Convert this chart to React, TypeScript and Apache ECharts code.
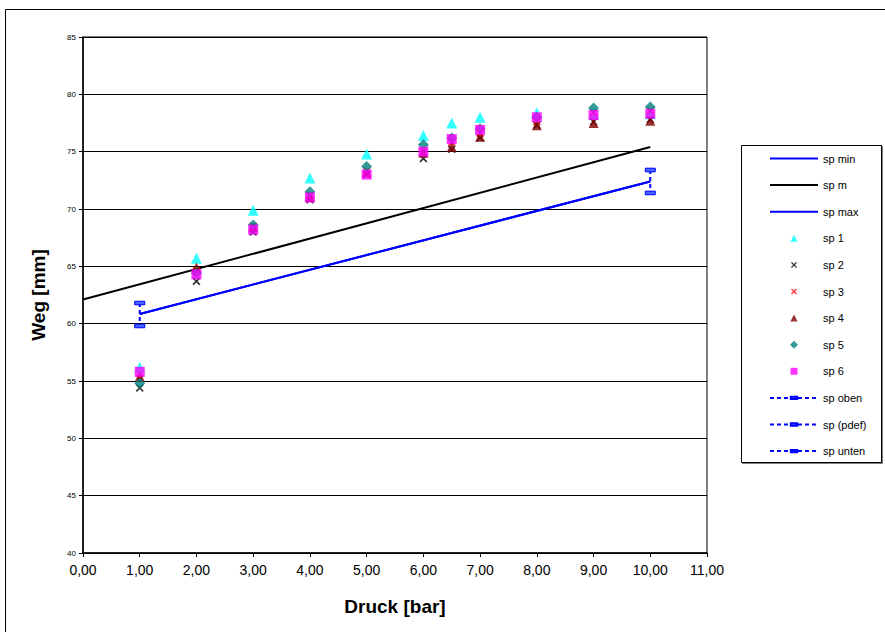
import React, { useEffect, useRef } from "react";
import * as echarts from "echarts";

// Pressure values (x) in bar
const pressure = [1, 2, 3, 4, 5, 6, 6.5, 7, 8, 9, 10];
// Measured displacement series (mm)
const sp1 = [56.2, 65.7, 69.9, 72.7, 74.8, 76.4, 77.5, 78.0, 78.4, 78.3, 78.3];
const sp2 = [54.4, 63.7, 68.0, 70.8, 73.0, 74.4, 75.2, 76.2, 77.3, 77.6, 77.8];
const sp3 = [55.2, 64.6, 68.5, 71.2, 73.3, 75.0, 75.8, 76.6, 77.6, 78.4, 78.6];
const sp4 = [55.4, 64.9, 68.4, 71.1, 73.2, 74.9, 75.4, 76.3, 77.3, 77.5, 77.7];
const sp5 = [54.8, 64.4, 68.6, 71.5, 73.7, 75.6, 76.2, 77.0, 78.0, 78.8, 78.9];
const sp6 = [55.8, 64.3, 68.2, 71.0, 73.0, 75.0, 76.1, 76.9, 78.0, 78.2, 78.3];

// Reference lines
const spMinLine = [[1, 60.85], [10, 72.4]];
const spMLine = [[0, 62.1], [10, 75.4]];
const spMaxLine = [[1, 60.85], [10, 72.4]];
// Tolerance bars
const spOben = [[1, 61.8], [1, 59.8]];
const spPdef: number[][] = [];
const spUnten = [[10, 73.4], [10, 71.4]];

const FONT = "'Liberation Sans', Arial, sans-serif";
const CROSS =
  "path://M0,1.5L1.5,0L5,3.5L8.5,0L10,1.5L6.5,5L10,8.5L8.5,10L5,6.5L1.5,10L0,8.5L3.5,5Z";
// bar marker inside a square box (so it stays flat in the legend too)
const BAR = "path://M0,0M10,10M0,3.2L10,3.2L10,6.8L0,6.8Z";
// legend icons padded to the full 48x8 legend slot
const L_TRI = "path://M0,0M48,8M24,0.5L27.6,7.5L20.4,7.5Z";
const L_SQ = "path://M0,0M48,8M20.5,0.5L27.5,0.5L27.5,7.5L20.5,7.5Z";
const L_DIA = "path://M0,0M48,8M24,0L28,4L24,8L20,4Z";
const L_X =
  "path://M0,0M48,8M21,1.9L21.9,1L24,3.1L26.1,1L27,1.9L24.9,4L27,6.1L26.1,7L24,4.9L21.9,7L21,6.1L23.1,4Z";

const pts = (ys: number[]) => pressure.map((x, i) => [x, ys[i]]);

export default function App() {
  const ref = useRef<HTMLDivElement>(null);
  useEffect(() => {
    if (!ref.current) return;
    const chart = echarts.init(ref.current, null, { renderer: "svg" });
    const errStyle = {
      type: "line" as const,
      symbol: BAR,
      symbolSize: 10,
      showSymbol: true,
      itemStyle: { color: "#4466ff", borderColor: "#0000ff", borderWidth: 1 },
      lineStyle: { color: "#0000ff", width: 2, type: [4, 3] as any },
      z: 3,
    };
    const hiddenSym = { color: "rgba(0,0,0,0)", borderWidth: 0, opacity: 0 };
    chart.setOption({
      animation: false,
      backgroundColor: "#fff",
      textStyle: { fontFamily: FONT },
      graphic: [
        {
          type: "rect",
          shape: { x: 5.5, y: 9.5, width: 1000, height: 1000 },
          style: { fill: "none", stroke: "#000", lineWidth: 1 },
          silent: true,
        },
        {
          type: "rect",
          shape: { x: 741.5, y: 145.5, width: 140, height: 317 },
          style: { fill: "#fff", stroke: "#000", lineWidth: 1, shadowColor: "rgba(0,0,0,0.5)", shadowOffsetX: 1, shadowOffsetY: 1 },
          silent: true,
        },
      ],
      grid: {
        left: 83,
        right: 178,
        top: 37,
        bottom: 79,
        show: true,
        borderColor: "#000",
        borderWidth: 1,
        backgroundColor: "transparent",
      },
      legend: {
        orient: "vertical",
        left: 769,
        top: 153,
        itemWidth: 48,
        itemHeight: 8,
        itemGap: 15.6,
        padding: 0,
        textStyle: { fontSize: 11, color: "#000", fontFamily: FONT },
        data: [
          { name: "sp min", itemStyle: hiddenSym },
          { name: "sp m", itemStyle: hiddenSym },
          { name: "sp max", itemStyle: hiddenSym },
          { name: "sp 1", icon: L_TRI },
          { name: "sp 2", icon: L_X },
          { name: "sp 3", icon: L_X },
          { name: "sp 4", icon: L_TRI },
          { name: "sp 5", icon: L_DIA },
          { name: "sp 6", icon: L_SQ },
          "sp oben",
          "sp (pdef)",
          "sp unten",
        ],
      },
      xAxis: {
        type: "value",
        min: 0,
        max: 11,
        interval: 1,
        name: "Druck [bar]",
        nameLocation: "middle",
        nameGap: 44,
        nameTextStyle: { fontSize: 19, fontWeight: "bold", color: "#000", fontFamily: FONT },
        axisLine: { show: true, lineStyle: { color: "#000", width: 1.5 } },
        axisTick: { show: true, length: 4, lineStyle: { color: "#000" } },
        axisLabel: {
          fontSize: 14,
          color: "#000",
          margin: 10,
          formatter: (v: number) => v.toFixed(2).replace(".", ","),
        },
        splitLine: { show: false },
      },
      yAxis: {
        type: "value",
        min: 40,
        max: 85,
        interval: 5,
        name: "Weg [mm]",
        nameLocation: "middle",
        nameGap: 35,
        nameTextStyle: { fontSize: 19, fontWeight: "bold", color: "#000", fontFamily: FONT },
        axisLine: { show: true, lineStyle: { color: "#000", width: 1.5 } },
        axisTick: { show: true, length: 4, lineStyle: { color: "#000" } },
        axisLabel: { fontSize: 8, color: "#000", margin: 7 },
        splitLine: { show: true, lineStyle: { color: "#000", width: 1 } },
      },
      series: [
        {
          name: "sp min",
          type: "line",
          data: spMinLine,
          symbol: "none",
          lineStyle: { color: "#0000ff", width: 2 },
          itemStyle: { color: "#0000ff" },
          z: 2,
        },
        {
          name: "sp m",
          type: "line",
          data: spMLine,
          symbol: "none",
          lineStyle: { color: "#000", width: 2 },
          itemStyle: { color: "#000" },
          z: 2,
        },
        {
          name: "sp max",
          type: "line",
          data: spMaxLine,
          symbol: "none",
          lineStyle: { color: "#0000ff", width: 2 },
          itemStyle: { color: "#0000ff" },
          z: 2,
        },
        { name: "sp 1", type: "scatter", data: pts(sp1), symbol: "triangle", symbolSize: 11, itemStyle: { color: "#00ffff" }, z: 4 },
        { name: "sp 2", type: "scatter", data: pts(sp2), symbol: CROSS, symbolSize: 8, itemStyle: { color: "#000" }, z: 4 },
        { name: "sp 3", type: "scatter", data: pts(sp3), symbol: CROSS, symbolSize: 8, itemStyle: { color: "#ff0000" }, z: 4 },
        { name: "sp 4", type: "scatter", data: pts(sp4), symbol: "triangle", symbolSize: 10, itemStyle: { color: "#800000" }, z: 4 },
        { name: "sp 5", type: "scatter", data: pts(sp5), symbol: "diamond", symbolSize: 11, itemStyle: { color: "#008080" }, z: 4 },
        { name: "sp 6", type: "scatter", data: pts(sp6), symbol: "rect", symbolSize: 10, itemStyle: { color: "#ff00ff" }, z: 4 },
        { name: "sp oben", data: spOben, ...errStyle },
        { name: "sp (pdef)", data: spPdef, ...errStyle },
        { name: "sp unten", data: spUnten, ...errStyle },
      ],
    });
    return () => chart.dispose();
  }, []);
  return (
    <div
      ref={ref}
      style={{ position: "absolute", left: 0, top: 0, width: 885, height: 632, background: "#fff" }}
    />
  );
}
